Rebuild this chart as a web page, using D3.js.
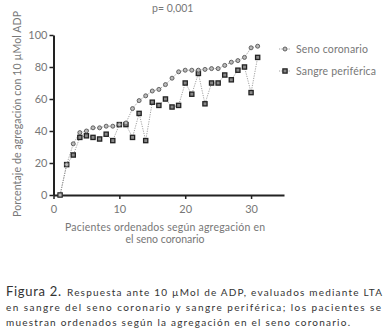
<!DOCTYPE html>
<html>
<head>
<meta charset="utf-8">
<script src="https://cdn.jsdelivr.net/npm/d3@7"></script>
<style>
  body { margin: 0; background: #fff; }
  svg text { font-family: "Lato", "DejaVu Sans", sans-serif; }
</style>
</head>
<body>
<svg id="svg" width="391" height="330"></svg>
<script>
// patients 1..31, ordered by coronary sinus aggregation
var patients = d3.range(1, 32);
var senoCoronario = [0, 19, 32, 39, 40, 42, 42, 43, 43, 44, 45, 54, 59, 62, 65, 66, 69, 73, 77, 78, 78, 78, 78.5, 79, 79, 81, 83, 84, 86, 92, 93];
var sangrePeriferica = [0, 19, 25, 36, 37, 36, 35, 38, 34, 44, 44, 36, 51, 34, 58, 56, 60, 55, 56, 70, 63, 76, 57, 70, 70, 75, 72, 78, 80, 64, 86];
var xTicks = [0, 10, 20, 30];
var yTicks = [0, 20, 40, 60, 80, 100];
var seriesNames = ["Seno coronario", "Sangre periférica"];

const svg = d3.select('#svg');
const x = d3.scaleLinear().domain([0, 35]).range([53.5, 284]);
const y = d3.scaleLinear().domain([0, 100]).range([195, 35]);

// Axes
const gx = svg.append("g").attr("transform", `translate(0,${y(0)})`)
    .call(d3.axisBottom(x).tickValues(xTicks).tickSize(4).tickPadding(6).tickSizeOuter(0));
const gy = svg.append("g").attr("transform", `translate(${x(0)},0)`)
    .call(d3.axisLeft(y).tickValues(yTicks).tickSize(4).tickPadding(2).tickSizeOuter(0));
[gx, gy].forEach(g => {
    g.select(".domain").attr("stroke", "#222").attr("stroke-width", 2);
    g.selectAll(".tick line").attr("stroke", "#222").attr("stroke-width", 1.5);
    g.selectAll(".tick text").attr("fill", "#777").attr("font-size", 11)
        .attr("font-family", "Lato, sans-serif");
});

// Series
const line = d3.line().x((d, i) => x(patients[i])).y(d => y(d));
[sangrePeriferica, senoCoronario].forEach(s => {
    svg.append("path").datum(s).attr("d", line)
        .attr("fill", "none").attr("stroke", "#888").attr("stroke-width", 0.8).attr("stroke-dasharray", "1.2,1.2");
});

function square(g, cx, cy)
{
    g.append("rect").attr("x", cx - 2.1).attr("y", cy - 2.1).attr("width", 4.2).attr("height", 4.2)
        .attr("fill", "#888").attr("stroke", "#222").attr("stroke-width", 1.3);
}
function dot(g, cx, cy)
{
    g.append("circle").attr("cx", cx).attr("cy", cy).attr("r", 2)
        .attr("fill", "#bbb").attr("stroke", "#555").attr("stroke-width", 0.9);
}

const marks = svg.append("g");
sangrePeriferica.forEach((d, i) => square(marks, x(patients[i]), y(d)));
senoCoronario.forEach((d, i) => dot(marks, x(patients[i]), y(d)));

// Legend
const legend = svg.append("g");
[49, 71].forEach((ly, k) => {
    legend.append("line").attr("x1", 279).attr("x2", 291).attr("y1", ly).attr("y2", ly)
        .attr("stroke", "#888").attr("stroke-width", 0.8).attr("stroke-dasharray", "1.2,1.2");
    if (k == 0) dot(legend, 285, ly); else square(legend, 285, ly);
    legend.append("text").attr("x", 296).attr("y", ly + 3.5).attr("font-size", 10.5)
        .attr("fill", "#777").attr("textLength", k == 0 ? 72 : 80).text(seriesNames[k]);
});

// Title and axis labels
svg.append("text").attr("x", 152).attr("y", 12).attr("font-size", 10.5).attr("fill", "#777").text("p= 0,001");
svg.append("text").attr("transform", "translate(21,114) rotate(-90)").attr("text-anchor", "middle")
    .attr("font-size", 10.5).attr("fill", "#777").attr("textLength", 206).text("Porcentaje de agregación con 10 µMol ADP");
svg.append("text").attr("x", 165).attr("y", 231).attr("text-anchor", "middle")
    .attr("font-size", 10.5).attr("fill", "#777").attr("textLength", 200).text("Pacientes ordenados según agregación en");
svg.append("text").attr("x", 165).attr("y", 243).attr("text-anchor", "middle")
    .attr("font-size", 10.5).attr("fill", "#777").text("el seno coronario");

// Caption
const cap = svg.append("g").attr("fill", "#333");
cap.append("text").attr("x", 6).attr("y", 296).attr("font-size", 13).attr("textLength", 55).text("Figura 2.");
cap.append("text").attr("x", 67).attr("y", 296).attr("font-size", 10).attr("font-family", "DejaVu Sans")
    .attr("textLength", 315).attr("lengthAdjust", "spacing")
    .text("Respuesta ante 10 µMol de ADP, evaluados mediante LTA");
cap.append("text").attr("x", 6).attr("y", 311).attr("font-size", 10).attr("font-family", "DejaVu Sans")
    .attr("textLength", 375).attr("lengthAdjust", "spacing")
    .text("en sangre del seno coronario y sangre periférica; los pacientes se");
cap.append("text").attr("x", 6).attr("y", 326).attr("font-size", 10).attr("font-family", "DejaVu Sans")
    .attr("textLength", 344).attr("lengthAdjust", "spacing")
    .text("muestran ordenados según la agregación en el seno coronario.");
</script>
</body>
</html>
